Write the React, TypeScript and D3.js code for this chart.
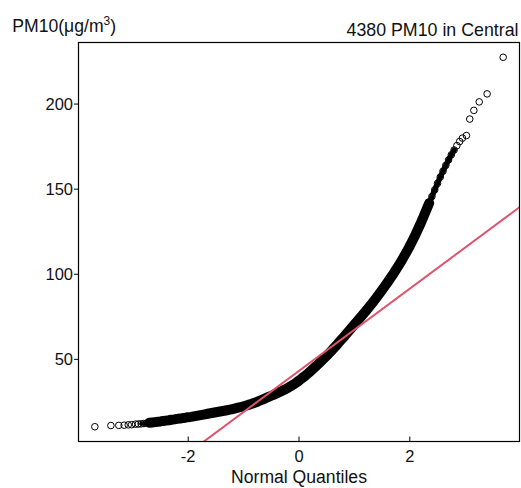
import React from 'react';
import * as d3 from 'd3';

// ---- data ----
const N_OBS = 4380;
// smallest sample values, ranks 1..6 from the bottom
const lowerTailValues = [10.4, 11.1, 11.2, 11.3, 11.5, 11.6];
// largest sample values, ranks 1..6 from the top
const upperTailValues = [227.5, 206, 201.3, 196.3, 191.2, 181.5];
// sample quantiles of the dense body, read at normal quantiles -2.95 .. 2.95 (step 0.05)
const bodyStart = -2.95;
const bodyStep = 0.05;
const bodyValues = [
  11.9, 12.0, 12.1, 12.3, 12.5, 12.7, 12.9, 13.1, 13.3, 13.5,
  13.8, 14.0, 14.2, 14.5, 14.7, 15.0, 15.2, 15.5, 15.7, 16.0,
  16.2, 16.5, 16.8, 17.1, 17.4, 17.7, 18.0, 18.3, 18.6, 18.9,
  19.2, 19.5, 19.8, 20.1, 20.4, 20.8, 21.2, 21.6, 22.0, 22.4,
  22.9, 23.4, 23.9, 24.5, 25.1, 25.8, 26.5, 27.2, 27.9, 28.6,
  29.3, 30.0, 30.8, 31.6, 32.4, 33.3, 34.2, 35.2, 36.3, 37.5,
  38.8, 40.0, 41.4, 42.8, 44.3, 45.8, 47.3, 48.9, 50.5, 52.1,
  53.8, 55.5, 57.3, 59.1, 61.0, 62.9, 64.8, 66.7, 68.6, 70.5,
  72.4, 74.3, 76.2, 78.1, 80.1, 82.1, 84.2, 86.3, 88.5, 90.7,
  93.0, 95.3, 97.7, 100.1, 102.6, 105.2, 107.9, 110.7, 113.6, 116.6,
  119.8, 123.1, 126.6, 130.2, 134.0, 137.9, 141.8, 145.7, 149.6, 153.4,
  157.1, 160.6, 164.0, 167.2, 170.2, 173.0, 175.6, 178.0, 180.0,
];
// sample quartiles (used by the reference line, like qqline)
const sampleQuartiles = [26.9, 59.5];
const xTicks = [-2, 0, 2];
const yTicks = [50, 100, 150, 200];
const titleText = '4380 PM10 in Central';
const xLabel = 'Normal Quantiles';

// inverse standard normal CDF (Acklam)
function qnorm(p: number): number {
  const a = [-39.69683028665376, 220.9460984245205, -275.9285104469687, 138.357751867269, -30.66479806614716, 2.506628277459239];
  const b = [-54.47609879822406, 161.5858368580409, -155.6989798598866, 66.80131188771972, -13.28068155288572];
  const c = [-0.007784894002430293, -0.3223964580411365, -2.400758277161838, -2.549732539343734, 4.374664141464968, 2.938163982698783];
  const d = [0.007784695709041462, 0.3224671290700398, 2.445134137142996, 3.754408661907416];
  const pl = 0.02425;
  if (p < pl) {
    const q = Math.sqrt(-2 * Math.log(p));
    return (((((c[0] * q + c[1]) * q + c[2]) * q + c[3]) * q + c[4]) * q + c[5]) / ((((d[0] * q + d[1]) * q + d[2]) * q + d[3]) * q + 1);
  }
  if (p > 1 - pl) {
    const q = Math.sqrt(-2 * Math.log(1 - p));
    return -(((((c[0] * q + c[1]) * q + c[2]) * q + c[3]) * q + c[4]) * q + c[5]) / ((((d[0] * q + d[1]) * q + d[2]) * q + d[3]) * q + 1);
  }
  const q = p - 0.5;
  const r = q * q;
  return (((((a[0] * r + a[1]) * r + a[2]) * r + a[3]) * r + a[4]) * r + a[5]) * q / (((((b[0] * r + b[1]) * r + b[2]) * r + b[3]) * r + b[4]) * r + 1);
}

type Pt = { x: number; y: number };

export default function App() {
  const W = 521, H = 488;
  const L = 78.5, R = 519.5, T = 42.5, B = 441.5;
  const font = '"Liberation Sans", Arial, sans-serif';

  const pts: Pt[] = [];
  lowerTailValues.forEach((v, i) => pts.push({ x: qnorm((i + 1 - 0.5) / N_OBS), y: v }));
  const body: Pt[] = bodyValues.map((v, i) => ({ x: bodyStart + i * bodyStep, y: v }));
  body.forEach((p) => pts.push(p));
  upperTailValues.forEach((v, i) => pts.push({ x: qnorm(1 - (i + 1 - 0.5) / N_OBS), y: v }));

  const xMax = Math.abs(qnorm(0.5 / N_OBS));
  const xPad = 2 * xMax * 0.04;
  const x = d3.scaleLinear().domain([-xMax - xPad, xMax + xPad]).range([L, R]);
  const yMin = d3.min(pts, (p) => p.y) as number;
  const yMax = d3.max(pts, (p) => p.y) as number;
  const yPad = (yMax - yMin) * 0.04;
  const y = d3.scaleLinear().domain([yMin - yPad, yMax + yPad]).range([B, T]);

  // dense part of the cloud (thousands of overlapping circles) drawn as bands
  const line = d3.line<Pt>().x((p) => x(p.x)).y((p) => y(p.y));
  const solid = line(body.filter((p) => p.x >= -2.72 && p.x <= 2.38)) || '';
  const upperSparse = line(body.filter((p) => p.x >= 2.3 && p.x <= 2.82)) || '';
  const lowerSparse = line(body.filter((p) => p.x >= -2.9 && p.x <= -2.65)) || '';

  const zq = qnorm(0.75);
  const slope = (sampleQuartiles[1] - sampleQuartiles[0]) / (2 * zq);
  const intercept = sampleQuartiles[0] + slope * zq;
  const x0 = x.domain()[0], x1 = x.domain()[1];

  return (
    <svg width={W} height={H} style={{ position: 'absolute', left: 0, top: 0, background: '#fff' }} fontFamily={font}>
      <defs>
        <clipPath id="plotClip">
          <rect x={L} y={T} width={R - L} height={B - T} />
        </clipPath>
      </defs>
      <rect x={0} y={0} width={W} height={H} fill="#fff" />
      <g clipPath="url(#plotClip)">
        <path d={solid} fill="none" stroke="#000" strokeWidth={10} strokeLinecap="round" strokeLinejoin="round" />
        <path d={upperSparse} fill="none" stroke="#000" strokeWidth={5.5} strokeLinecap="round" strokeLinejoin="round" />
        <path d={lowerSparse} fill="none" stroke="#000" strokeWidth={4} strokeLinecap="round" strokeLinejoin="round" />
        {pts.map((p, i) => (
          <circle key={i} cx={x(p.x)} cy={y(p.y)} r={3.3} fill="none" stroke="#000" strokeWidth={1} />
        ))}
        <line x1={x(x0)} y1={y(intercept + slope * x0)} x2={x(x1)} y2={y(intercept + slope * x1)} stroke="#DF536B" strokeWidth={2} />
      </g>
      <rect x={L} y={T} width={R - L} height={B - T} fill="none" stroke="#000" strokeWidth={1.2} />
      {yTicks.map((t) => (
        <g key={t}>
          <line x1={L - 4.5} x2={L} y1={y(t)} y2={y(t)} stroke="#000" strokeWidth={1} />
          <text x={L - 5.5} y={y(t)} dy="0.36em" textAnchor="end" fontSize={16.5} fill="#111">{t}</text>
        </g>
      ))}
      {xTicks.map((t) => (
        <g key={t}>
          <line x1={x(t)} x2={x(t)} y1={B} y2={B - 5} stroke="#000" strokeWidth={1} />
          <text x={x(t)} y={462} textAnchor="middle" fontSize={16.5} fill="#111">{t}</text>
        </g>
      ))}
      <text x={(L + R) / 2} y={483} textAnchor="middle" fontSize={17.6} fill="#111">{xLabel}</text>
      <text x={518.5} y={36} textAnchor="end" fontSize={17.8} fill="#111">{titleText}</text>
      <text x={12.3} y={31.5} fontSize={17.6} fill="#111">
        PM10(μg/m<tspan dy={-7} fontSize={12}>3</tspan><tspan dy={7}>)</tspan>
      </text>
    </svg>
  );
}
